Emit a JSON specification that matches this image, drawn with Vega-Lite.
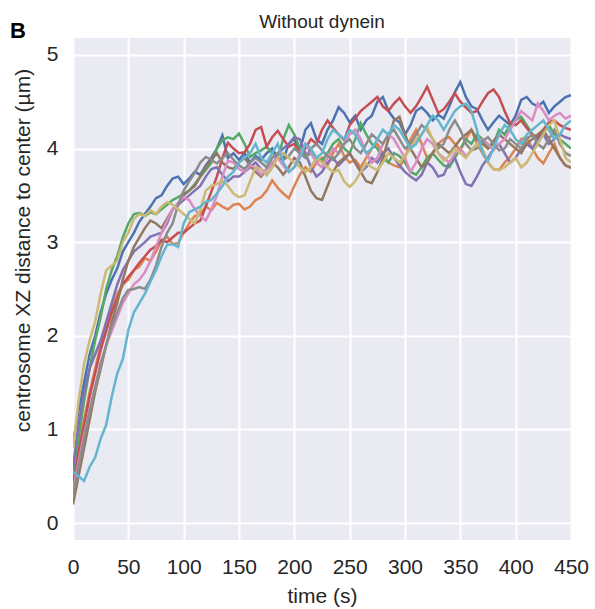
{
"$schema":"https://vega.github.io/schema/vega-lite/v6.json",
"width":498,"height":502,
"autosize":{"type":"none"},
"padding":{"left":73,"top":38,"right":24,"bottom":69},
"background":"white",
"config":{"view":{"fill":"#EAEAF2","stroke":null},"font":"Liberation Sans"},
"title":{"text":"Without dynein","fontSize":19,"fontWeight":"normal","color":"#262626","anchor":"middle","frame":"group","offset":-27,"baseline":"alphabetic","font":"Liberation Sans"},
"datasets":{"traj":[
{"r":"1","t":0,"d":0.85},{"r":"1","t":5,"d":1.2},{"r":"1","t":10,"d":1.5},{"r":"1","t":15,"d":1.8},{"r":"1","t":20,"d":2.0},{"r":"1","t":25,"d":2.25},{"r":"1","t":30,"d":2.45},{"r":"1","t":35,"d":2.6},{"r":"1","t":40,"d":2.72},{"r":"1","t":45,"d":2.9},{"r":"1","t":50,"d":3.0},{"r":"1","t":55,"d":3.1},{"r":"1","t":60,"d":3.22},{"r":"1","t":65,"d":3.3},{"r":"1","t":70,"d":3.38},{"r":"1","t":75,"d":3.47},{"r":"1","t":80,"d":3.5},{"r":"1","t":85,"d":3.6},{"r":"1","t":90,"d":3.68},{"r":"1","t":95,"d":3.7},{"r":"1","t":100,"d":3.62},{"r":"1","t":105,"d":3.68},{"r":"1","t":110,"d":3.75},{"r":"1","t":115,"d":3.72},{"r":"1","t":120,"d":3.82},{"r":"1","t":125,"d":3.9},{"r":"1","t":130,"d":4.0},{"r":"1","t":135,"d":4.14},{"r":"1","t":140,"d":3.9},{"r":"1","t":145,"d":3.95},{"r":"1","t":150,"d":3.88},{"r":"1","t":155,"d":3.95},{"r":"1","t":160,"d":3.85},{"r":"1","t":165,"d":3.92},{"r":"1","t":170,"d":3.88},{"r":"1","t":175,"d":3.95},{"r":"1","t":180,"d":4.0},{"r":"1","t":185,"d":3.9},{"r":"1","t":190,"d":3.88},{"r":"1","t":195,"d":4.05},{"r":"1","t":200,"d":4.1},{"r":"1","t":205,"d":3.98},{"r":"1","t":210,"d":4.2},{"r":"1","t":215,"d":4.27},{"r":"1","t":220,"d":4.1},{"r":"1","t":225,"d":4.05},{"r":"1","t":230,"d":4.2},{"r":"1","t":235,"d":4.3},{"r":"1","t":240,"d":4.44},{"r":"1","t":245,"d":4.38},{"r":"1","t":250,"d":4.28},{"r":"1","t":255,"d":4.35},{"r":"1","t":260,"d":4.2},{"r":"1","t":265,"d":4.3},{"r":"1","t":270,"d":4.35},{"r":"1","t":275,"d":4.5},{"r":"1","t":280,"d":4.55},{"r":"1","t":285,"d":4.4},{"r":"1","t":290,"d":4.32},{"r":"1","t":295,"d":4.28},{"r":"1","t":300,"d":4.15},{"r":"1","t":305,"d":4.25},{"r":"1","t":310,"d":4.4},{"r":"1","t":315,"d":4.44},{"r":"1","t":320,"d":4.38},{"r":"1","t":325,"d":4.3},{"r":"1","t":330,"d":4.36},{"r":"1","t":335,"d":4.32},{"r":"1","t":340,"d":4.45},{"r":"1","t":345,"d":4.6},{"r":"1","t":350,"d":4.71},{"r":"1","t":355,"d":4.55},{"r":"1","t":360,"d":4.45},{"r":"1","t":365,"d":4.42},{"r":"1","t":370,"d":4.3},{"r":"1","t":375,"d":4.2},{"r":"1","t":380,"d":4.28},{"r":"1","t":385,"d":4.35},{"r":"1","t":390,"d":4.3},{"r":"1","t":395,"d":4.25},{"r":"1","t":400,"d":4.35},{"r":"1","t":405,"d":4.52},{"r":"1","t":410,"d":4.55},{"r":"1","t":415,"d":4.48},{"r":"1","t":420,"d":4.45},{"r":"1","t":425,"d":4.5},{"r":"1","t":430,"d":4.38},{"r":"1","t":435,"d":4.45},{"r":"1","t":440,"d":4.5},{"r":"1","t":445,"d":4.55},{"r":"1","t":450,"d":4.57},
{"r":"2","t":0,"d":0.5},{"r":"2","t":5,"d":0.8},{"r":"2","t":10,"d":1.1},{"r":"2","t":15,"d":1.4},{"r":"2","t":20,"d":1.65},{"r":"2","t":25,"d":1.9},{"r":"2","t":30,"d":2.1},{"r":"2","t":35,"d":2.3},{"r":"2","t":40,"d":2.45},{"r":"2","t":45,"d":2.55},{"r":"2","t":50,"d":2.6},{"r":"2","t":55,"d":2.7},{"r":"2","t":60,"d":2.74},{"r":"2","t":65,"d":2.83},{"r":"2","t":70,"d":2.8},{"r":"2","t":75,"d":2.9},{"r":"2","t":80,"d":3.02},{"r":"2","t":85,"d":3.06},{"r":"2","t":90,"d":2.98},{"r":"2","t":95,"d":2.99},{"r":"2","t":100,"d":3.1},{"r":"2","t":105,"d":3.2},{"r":"2","t":110,"d":3.28},{"r":"2","t":115,"d":3.3},{"r":"2","t":120,"d":3.38},{"r":"2","t":125,"d":3.34},{"r":"2","t":130,"d":3.42},{"r":"2","t":135,"d":3.38},{"r":"2","t":140,"d":3.35},{"r":"2","t":145,"d":3.4},{"r":"2","t":150,"d":3.41},{"r":"2","t":155,"d":3.35},{"r":"2","t":160,"d":3.38},{"r":"2","t":165,"d":3.45},{"r":"2","t":170,"d":3.48},{"r":"2","t":175,"d":3.55},{"r":"2","t":180,"d":3.66},{"r":"2","t":185,"d":3.58},{"r":"2","t":190,"d":3.52},{"r":"2","t":195,"d":3.47},{"r":"2","t":200,"d":3.6},{"r":"2","t":205,"d":3.72},{"r":"2","t":210,"d":3.8},{"r":"2","t":215,"d":3.75},{"r":"2","t":220,"d":3.85},{"r":"2","t":225,"d":3.9},{"r":"2","t":230,"d":3.82},{"r":"2","t":235,"d":3.95},{"r":"2","t":240,"d":4.05},{"r":"2","t":245,"d":3.92},{"r":"2","t":250,"d":3.85},{"r":"2","t":255,"d":3.88},{"r":"2","t":260,"d":3.8},{"r":"2","t":265,"d":3.9},{"r":"2","t":270,"d":4.0},{"r":"2","t":275,"d":4.05},{"r":"2","t":280,"d":3.95},{"r":"2","t":285,"d":3.85},{"r":"2","t":290,"d":3.82},{"r":"2","t":295,"d":3.8},{"r":"2","t":300,"d":3.9},{"r":"2","t":305,"d":4.1},{"r":"2","t":310,"d":4.2},{"r":"2","t":315,"d":4.05},{"r":"2","t":320,"d":3.9},{"r":"2","t":325,"d":3.95},{"r":"2","t":330,"d":4.05},{"r":"2","t":335,"d":4.1},{"r":"2","t":340,"d":4.12},{"r":"2","t":345,"d":4.05},{"r":"2","t":350,"d":3.98},{"r":"2","t":355,"d":4.1},{"r":"2","t":360,"d":4.2},{"r":"2","t":365,"d":4.05},{"r":"2","t":370,"d":3.95},{"r":"2","t":375,"d":3.85},{"r":"2","t":380,"d":3.78},{"r":"2","t":385,"d":3.77},{"r":"2","t":390,"d":3.85},{"r":"2","t":395,"d":3.91},{"r":"2","t":400,"d":4.0},{"r":"2","t":405,"d":4.1},{"r":"2","t":410,"d":4.12},{"r":"2","t":415,"d":4.0},{"r":"2","t":420,"d":3.9},{"r":"2","t":425,"d":3.84},{"r":"2","t":430,"d":3.95},{"r":"2","t":435,"d":4.05},{"r":"2","t":440,"d":3.9},{"r":"2","t":445,"d":3.82},{"r":"2","t":450,"d":3.79},
{"r":"3","t":0,"d":0.5},{"r":"3","t":5,"d":0.9},{"r":"3","t":10,"d":1.3},{"r":"3","t":15,"d":1.65},{"r":"3","t":20,"d":1.95},{"r":"3","t":25,"d":2.2},{"r":"3","t":30,"d":2.5},{"r":"3","t":35,"d":2.7},{"r":"3","t":40,"d":2.85},{"r":"3","t":45,"d":3.05},{"r":"3","t":50,"d":3.2},{"r":"3","t":55,"d":3.3},{"r":"3","t":60,"d":3.31},{"r":"3","t":65,"d":3.28},{"r":"3","t":70,"d":3.32},{"r":"3","t":75,"d":3.3},{"r":"3","t":80,"d":3.35},{"r":"3","t":85,"d":3.4},{"r":"3","t":90,"d":3.45},{"r":"3","t":95,"d":3.48},{"r":"3","t":100,"d":3.52},{"r":"3","t":105,"d":3.55},{"r":"3","t":110,"d":3.62},{"r":"3","t":115,"d":3.7},{"r":"3","t":120,"d":3.77},{"r":"3","t":125,"d":3.85},{"r":"3","t":130,"d":4.0},{"r":"3","t":135,"d":4.09},{"r":"3","t":140,"d":4.12},{"r":"3","t":145,"d":4.1},{"r":"3","t":150,"d":4.16},{"r":"3","t":155,"d":4.05},{"r":"3","t":160,"d":3.91},{"r":"3","t":165,"d":3.95},{"r":"3","t":170,"d":3.98},{"r":"3","t":175,"d":4.02},{"r":"3","t":180,"d":3.95},{"r":"3","t":185,"d":3.9},{"r":"3","t":190,"d":4.1},{"r":"3","t":195,"d":4.25},{"r":"3","t":200,"d":4.15},{"r":"3","t":205,"d":4.0},{"r":"3","t":210,"d":3.91},{"r":"3","t":215,"d":3.95},{"r":"3","t":220,"d":3.9},{"r":"3","t":225,"d":3.87},{"r":"3","t":230,"d":3.95},{"r":"3","t":235,"d":4.05},{"r":"3","t":240,"d":4.1},{"r":"3","t":245,"d":4.0},{"r":"3","t":250,"d":3.95},{"r":"3","t":255,"d":4.1},{"r":"3","t":260,"d":4.27},{"r":"3","t":265,"d":4.15},{"r":"3","t":270,"d":4.05},{"r":"3","t":275,"d":4.0},{"r":"3","t":280,"d":3.9},{"r":"3","t":285,"d":3.85},{"r":"3","t":290,"d":3.95},{"r":"3","t":295,"d":3.92},{"r":"3","t":300,"d":3.85},{"r":"3","t":305,"d":3.75},{"r":"3","t":310,"d":3.72},{"r":"3","t":315,"d":3.8},{"r":"3","t":320,"d":3.9},{"r":"3","t":325,"d":3.95},{"r":"3","t":330,"d":3.88},{"r":"3","t":335,"d":3.82},{"r":"3","t":340,"d":3.8},{"r":"3","t":345,"d":3.9},{"r":"3","t":350,"d":4.0},{"r":"3","t":355,"d":4.1},{"r":"3","t":360,"d":4.05},{"r":"3","t":365,"d":4.15},{"r":"3","t":370,"d":4.1},{"r":"3","t":375,"d":4.0},{"r":"3","t":380,"d":4.05},{"r":"3","t":385,"d":4.2},{"r":"3","t":390,"d":4.15},{"r":"3","t":395,"d":4.25},{"r":"3","t":400,"d":4.3},{"r":"3","t":405,"d":4.34},{"r":"3","t":410,"d":4.25},{"r":"3","t":415,"d":4.15},{"r":"3","t":420,"d":4.1},{"r":"3","t":425,"d":4.2},{"r":"3","t":430,"d":4.25},{"r":"3","t":435,"d":4.15},{"r":"3","t":440,"d":4.1},{"r":"3","t":445,"d":4.05},{"r":"3","t":450,"d":4.0},
{"r":"4","t":0,"d":0.4},{"r":"4","t":5,"d":0.75},{"r":"4","t":10,"d":1.05},{"r":"4","t":15,"d":1.35},{"r":"4","t":20,"d":1.6},{"r":"4","t":25,"d":1.85},{"r":"4","t":30,"d":2.05},{"r":"4","t":35,"d":2.25},{"r":"4","t":40,"d":2.4},{"r":"4","t":45,"d":2.55},{"r":"4","t":50,"d":2.63},{"r":"4","t":55,"d":2.7},{"r":"4","t":60,"d":2.78},{"r":"4","t":65,"d":2.85},{"r":"4","t":70,"d":2.92},{"r":"4","t":75,"d":2.96},{"r":"4","t":80,"d":3.02},{"r":"4","t":85,"d":3.0},{"r":"4","t":90,"d":3.05},{"r":"4","t":95,"d":3.1},{"r":"4","t":100,"d":3.1},{"r":"4","t":105,"d":3.15},{"r":"4","t":110,"d":3.2},{"r":"4","t":115,"d":3.23},{"r":"4","t":120,"d":3.38},{"r":"4","t":125,"d":3.54},{"r":"4","t":130,"d":3.7},{"r":"4","t":135,"d":3.9},{"r":"4","t":140,"d":4.06},{"r":"4","t":145,"d":4.0},{"r":"4","t":150,"d":3.95},{"r":"4","t":155,"d":3.96},{"r":"4","t":160,"d":4.05},{"r":"4","t":165,"d":4.2},{"r":"4","t":170,"d":4.23},{"r":"4","t":175,"d":4.02},{"r":"4","t":180,"d":4.12},{"r":"4","t":185,"d":4.19},{"r":"4","t":190,"d":4.1},{"r":"4","t":195,"d":4.02},{"r":"4","t":200,"d":4.05},{"r":"4","t":205,"d":3.95},{"r":"4","t":210,"d":4.0},{"r":"4","t":215,"d":4.1},{"r":"4","t":220,"d":4.05},{"r":"4","t":225,"d":4.2},{"r":"4","t":230,"d":4.3},{"r":"4","t":235,"d":4.22},{"r":"4","t":240,"d":4.15},{"r":"4","t":245,"d":4.09},{"r":"4","t":250,"d":4.25},{"r":"4","t":255,"d":4.32},{"r":"4","t":260,"d":4.4},{"r":"4","t":265,"d":4.45},{"r":"4","t":270,"d":4.5},{"r":"4","t":275,"d":4.55},{"r":"4","t":280,"d":4.45},{"r":"4","t":285,"d":4.4},{"r":"4","t":290,"d":4.48},{"r":"4","t":295,"d":4.54},{"r":"4","t":300,"d":4.45},{"r":"4","t":305,"d":4.38},{"r":"4","t":310,"d":4.45},{"r":"4","t":315,"d":4.55},{"r":"4","t":320,"d":4.66},{"r":"4","t":325,"d":4.52},{"r":"4","t":330,"d":4.38},{"r":"4","t":335,"d":4.42},{"r":"4","t":340,"d":4.5},{"r":"4","t":345,"d":4.59},{"r":"4","t":350,"d":4.5},{"r":"4","t":355,"d":4.44},{"r":"4","t":360,"d":4.38},{"r":"4","t":365,"d":4.4},{"r":"4","t":370,"d":4.5},{"r":"4","t":375,"d":4.59},{"r":"4","t":380,"d":4.63},{"r":"4","t":385,"d":4.55},{"r":"4","t":390,"d":4.4},{"r":"4","t":395,"d":4.27},{"r":"4","t":400,"d":4.25},{"r":"4","t":405,"d":4.3},{"r":"4","t":410,"d":4.22},{"r":"4","t":415,"d":4.15},{"r":"4","t":420,"d":4.12},{"r":"4","t":425,"d":4.2},{"r":"4","t":430,"d":4.28},{"r":"4","t":435,"d":4.3},{"r":"4","t":440,"d":4.25},{"r":"4","t":445,"d":4.22},{"r":"4","t":450,"d":4.2},
{"r":"5","t":0,"d":0.6},{"r":"5","t":5,"d":1.05},{"r":"5","t":10,"d":1.4},{"r":"5","t":15,"d":1.65},{"r":"5","t":20,"d":1.8},{"r":"5","t":25,"d":1.95},{"r":"5","t":30,"d":2.15},{"r":"5","t":35,"d":2.35},{"r":"5","t":40,"d":2.55},{"r":"5","t":45,"d":2.7},{"r":"5","t":50,"d":2.8},{"r":"5","t":55,"d":2.9},{"r":"5","t":60,"d":2.95},{"r":"5","t":65,"d":3.0},{"r":"5","t":70,"d":3.06},{"r":"5","t":75,"d":3.08},{"r":"5","t":80,"d":3.1},{"r":"5","t":85,"d":3.2},{"r":"5","t":90,"d":3.35},{"r":"5","t":95,"d":3.4},{"r":"5","t":100,"d":3.45},{"r":"5","t":105,"d":3.5},{"r":"5","t":110,"d":3.55},{"r":"5","t":115,"d":3.6},{"r":"5","t":120,"d":3.7},{"r":"5","t":125,"d":3.78},{"r":"5","t":130,"d":3.8},{"r":"5","t":135,"d":3.72},{"r":"5","t":140,"d":3.65},{"r":"5","t":145,"d":3.7},{"r":"5","t":150,"d":3.7},{"r":"5","t":155,"d":3.75},{"r":"5","t":160,"d":3.8},{"r":"5","t":165,"d":3.85},{"r":"5","t":170,"d":3.78},{"r":"5","t":175,"d":3.72},{"r":"5","t":180,"d":3.8},{"r":"5","t":185,"d":3.95},{"r":"5","t":190,"d":4.0},{"r":"5","t":195,"d":4.05},{"r":"5","t":200,"d":4.12},{"r":"5","t":205,"d":4.1},{"r":"5","t":210,"d":3.95},{"r":"5","t":215,"d":3.8},{"r":"5","t":220,"d":3.7},{"r":"5","t":225,"d":3.75},{"r":"5","t":230,"d":3.85},{"r":"5","t":235,"d":3.9},{"r":"5","t":240,"d":3.82},{"r":"5","t":245,"d":3.88},{"r":"5","t":250,"d":3.95},{"r":"5","t":255,"d":3.85},{"r":"5","t":260,"d":3.75},{"r":"5","t":265,"d":3.8},{"r":"5","t":270,"d":3.9},{"r":"5","t":275,"d":3.85},{"r":"5","t":280,"d":3.95},{"r":"5","t":285,"d":4.0},{"r":"5","t":290,"d":3.9},{"r":"5","t":295,"d":3.82},{"r":"5","t":300,"d":3.75},{"r":"5","t":305,"d":3.7},{"r":"5","t":310,"d":3.66},{"r":"5","t":315,"d":3.72},{"r":"5","t":320,"d":3.85},{"r":"5","t":325,"d":3.8},{"r":"5","t":330,"d":3.7},{"r":"5","t":335,"d":3.72},{"r":"5","t":340,"d":3.85},{"r":"5","t":345,"d":3.9},{"r":"5","t":350,"d":3.75},{"r":"5","t":355,"d":3.62},{"r":"5","t":360,"d":3.6},{"r":"5","t":365,"d":3.7},{"r":"5","t":370,"d":3.82},{"r":"5","t":375,"d":3.9},{"r":"5","t":380,"d":4.0},{"r":"5","t":385,"d":4.05},{"r":"5","t":390,"d":3.95},{"r":"5","t":395,"d":3.85},{"r":"5","t":400,"d":3.9},{"r":"5","t":405,"d":4.0},{"r":"5","t":410,"d":4.05},{"r":"5","t":415,"d":4.0},{"r":"5","t":420,"d":4.1},{"r":"5","t":425,"d":4.15},{"r":"5","t":430,"d":4.05},{"r":"5","t":435,"d":4.1},{"r":"5","t":440,"d":4.15},{"r":"5","t":445,"d":4.12},{"r":"5","t":450,"d":4.1},
{"r":"6","t":0,"d":0.2},{"r":"6","t":5,"d":0.5},{"r":"6","t":10,"d":0.8},{"r":"6","t":15,"d":1.1},{"r":"6","t":20,"d":1.4},{"r":"6","t":25,"d":1.65},{"r":"6","t":30,"d":1.9},{"r":"6","t":35,"d":2.15},{"r":"6","t":40,"d":2.35},{"r":"6","t":45,"d":2.6},{"r":"6","t":50,"d":2.8},{"r":"6","t":55,"d":2.95},{"r":"6","t":60,"d":3.05},{"r":"6","t":65,"d":3.15},{"r":"6","t":70,"d":3.23},{"r":"6","t":75,"d":3.2},{"r":"6","t":80,"d":3.15},{"r":"6","t":85,"d":3.25},{"r":"6","t":90,"d":3.35},{"r":"6","t":95,"d":3.4},{"r":"6","t":100,"d":3.5},{"r":"6","t":105,"d":3.55},{"r":"6","t":110,"d":3.6},{"r":"6","t":115,"d":3.7},{"r":"6","t":120,"d":3.8},{"r":"6","t":125,"d":3.88},{"r":"6","t":130,"d":3.95},{"r":"6","t":135,"d":3.85},{"r":"6","t":140,"d":3.8},{"r":"6","t":145,"d":3.78},{"r":"6","t":150,"d":3.85},{"r":"6","t":155,"d":3.9},{"r":"6","t":160,"d":3.82},{"r":"6","t":165,"d":3.75},{"r":"6","t":170,"d":3.7},{"r":"6","t":175,"d":3.78},{"r":"6","t":180,"d":3.85},{"r":"6","t":185,"d":3.8},{"r":"6","t":190,"d":3.72},{"r":"6","t":195,"d":3.8},{"r":"6","t":200,"d":3.9},{"r":"6","t":205,"d":3.85},{"r":"6","t":210,"d":3.7},{"r":"6","t":215,"d":3.55},{"r":"6","t":220,"d":3.47},{"r":"6","t":225,"d":3.45},{"r":"6","t":230,"d":3.6},{"r":"6","t":235,"d":3.75},{"r":"6","t":240,"d":3.85},{"r":"6","t":245,"d":3.9},{"r":"6","t":250,"d":3.95},{"r":"6","t":255,"d":3.85},{"r":"6","t":260,"d":3.75},{"r":"6","t":265,"d":3.65},{"r":"6","t":270,"d":3.63},{"r":"6","t":275,"d":3.75},{"r":"6","t":280,"d":3.9},{"r":"6","t":285,"d":4.1},{"r":"6","t":290,"d":4.3},{"r":"6","t":295,"d":4.34},{"r":"6","t":300,"d":4.15},{"r":"6","t":305,"d":4.0},{"r":"6","t":310,"d":3.9},{"r":"6","t":315,"d":3.8},{"r":"6","t":320,"d":3.85},{"r":"6","t":325,"d":3.95},{"r":"6","t":330,"d":4.05},{"r":"6","t":335,"d":4.0},{"r":"6","t":340,"d":3.95},{"r":"6","t":345,"d":4.02},{"r":"6","t":350,"d":4.1},{"r":"6","t":355,"d":4.15},{"r":"6","t":360,"d":4.2},{"r":"6","t":365,"d":4.1},{"r":"6","t":370,"d":4.05},{"r":"6","t":375,"d":4.0},{"r":"6","t":380,"d":4.08},{"r":"6","t":385,"d":4.15},{"r":"6","t":390,"d":4.1},{"r":"6","t":395,"d":4.05},{"r":"6","t":400,"d":4.0},{"r":"6","t":405,"d":3.95},{"r":"6","t":410,"d":4.05},{"r":"6","t":415,"d":4.1},{"r":"6","t":420,"d":4.15},{"r":"6","t":425,"d":4.2},{"r":"6","t":430,"d":4.1},{"r":"6","t":435,"d":4.0},{"r":"6","t":440,"d":3.9},{"r":"6","t":445,"d":3.82},{"r":"6","t":450,"d":3.8},
{"r":"7","t":0,"d":0.35},{"r":"7","t":5,"d":0.65},{"r":"7","t":10,"d":0.95},{"r":"7","t":15,"d":1.2},{"r":"7","t":20,"d":1.45},{"r":"7","t":25,"d":1.7},{"r":"7","t":30,"d":1.9},{"r":"7","t":35,"d":2.05},{"r":"7","t":40,"d":2.2},{"r":"7","t":45,"d":2.35},{"r":"7","t":50,"d":2.45},{"r":"7","t":55,"d":2.55},{"r":"7","t":60,"d":2.6},{"r":"7","t":65,"d":2.68},{"r":"7","t":70,"d":2.8},{"r":"7","t":75,"d":2.95},{"r":"7","t":80,"d":3.1},{"r":"7","t":85,"d":3.23},{"r":"7","t":90,"d":3.35},{"r":"7","t":95,"d":3.42},{"r":"7","t":100,"d":3.48},{"r":"7","t":105,"d":3.45},{"r":"7","t":110,"d":3.35},{"r":"7","t":115,"d":3.28},{"r":"7","t":120,"d":3.23},{"r":"7","t":125,"d":3.35},{"r":"7","t":130,"d":3.5},{"r":"7","t":135,"d":3.7},{"r":"7","t":140,"d":3.87},{"r":"7","t":145,"d":3.85},{"r":"7","t":150,"d":3.78},{"r":"7","t":155,"d":3.75},{"r":"7","t":160,"d":3.82},{"r":"7","t":165,"d":3.8},{"r":"7","t":170,"d":3.72},{"r":"7","t":175,"d":3.78},{"r":"7","t":180,"d":3.85},{"r":"7","t":185,"d":3.9},{"r":"7","t":190,"d":3.82},{"r":"7","t":195,"d":3.75},{"r":"7","t":200,"d":3.8},{"r":"7","t":205,"d":3.95},{"r":"7","t":210,"d":4.05},{"r":"7","t":215,"d":3.95},{"r":"7","t":220,"d":3.85},{"r":"7","t":225,"d":3.8},{"r":"7","t":230,"d":3.9},{"r":"7","t":235,"d":4.0},{"r":"7","t":240,"d":3.95},{"r":"7","t":245,"d":4.05},{"r":"7","t":250,"d":4.15},{"r":"7","t":255,"d":4.2},{"r":"7","t":260,"d":4.1},{"r":"7","t":265,"d":3.95},{"r":"7","t":270,"d":3.85},{"r":"7","t":275,"d":3.9},{"r":"7","t":280,"d":4.05},{"r":"7","t":285,"d":4.15},{"r":"7","t":290,"d":4.1},{"r":"7","t":295,"d":4.0},{"r":"7","t":300,"d":3.9},{"r":"7","t":305,"d":3.75},{"r":"7","t":310,"d":3.85},{"r":"7","t":315,"d":4.0},{"r":"7","t":320,"d":4.1},{"r":"7","t":325,"d":4.05},{"r":"7","t":330,"d":3.95},{"r":"7","t":335,"d":3.9},{"r":"7","t":340,"d":3.85},{"r":"7","t":345,"d":3.95},{"r":"7","t":350,"d":4.0},{"r":"7","t":355,"d":3.92},{"r":"7","t":360,"d":3.98},{"r":"7","t":365,"d":4.05},{"r":"7","t":370,"d":4.1},{"r":"7","t":375,"d":4.05},{"r":"7","t":380,"d":3.98},{"r":"7","t":385,"d":4.05},{"r":"7","t":390,"d":4.1},{"r":"7","t":395,"d":4.2},{"r":"7","t":400,"d":4.3},{"r":"7","t":405,"d":4.4},{"r":"7","t":410,"d":4.35},{"r":"7","t":415,"d":4.3},{"r":"7","t":420,"d":4.48},{"r":"7","t":425,"d":4.4},{"r":"7","t":430,"d":4.3},{"r":"7","t":435,"d":4.35},{"r":"7","t":440,"d":4.38},{"r":"7","t":445,"d":4.32},{"r":"7","t":450,"d":4.35},
{"r":"8","t":0,"d":0.3},{"r":"8","t":5,"d":0.6},{"r":"8","t":10,"d":0.9},{"r":"8","t":15,"d":1.2},{"r":"8","t":20,"d":1.45},{"r":"8","t":25,"d":1.7},{"r":"8","t":30,"d":1.9},{"r":"8","t":35,"d":2.1},{"r":"8","t":40,"d":2.25},{"r":"8","t":45,"d":2.4},{"r":"8","t":50,"d":2.49},{"r":"8","t":55,"d":2.5},{"r":"8","t":60,"d":2.52},{"r":"8","t":65,"d":2.5},{"r":"8","t":70,"d":2.6},{"r":"8","t":75,"d":2.75},{"r":"8","t":80,"d":2.95},{"r":"8","t":85,"d":3.1},{"r":"8","t":90,"d":3.2},{"r":"8","t":95,"d":3.4},{"r":"8","t":100,"d":3.55},{"r":"8","t":105,"d":3.65},{"r":"8","t":110,"d":3.74},{"r":"8","t":115,"d":3.85},{"r":"8","t":120,"d":3.91},{"r":"8","t":125,"d":3.88},{"r":"8","t":130,"d":3.84},{"r":"8","t":135,"d":3.9},{"r":"8","t":140,"d":3.95},{"r":"8","t":145,"d":3.88},{"r":"8","t":150,"d":3.82},{"r":"8","t":155,"d":3.78},{"r":"8","t":160,"d":3.85},{"r":"8","t":165,"d":3.9},{"r":"8","t":170,"d":3.85},{"r":"8","t":175,"d":3.8},{"r":"8","t":180,"d":3.9},{"r":"8","t":185,"d":3.95},{"r":"8","t":190,"d":3.88},{"r":"8","t":195,"d":3.92},{"r":"8","t":200,"d":4.0},{"r":"8","t":205,"d":3.95},{"r":"8","t":210,"d":3.9},{"r":"8","t":215,"d":4.0},{"r":"8","t":220,"d":4.05},{"r":"8","t":225,"d":3.98},{"r":"8","t":230,"d":3.92},{"r":"8","t":235,"d":3.88},{"r":"8","t":240,"d":3.95},{"r":"8","t":245,"d":4.05},{"r":"8","t":250,"d":4.1},{"r":"8","t":255,"d":4.0},{"r":"8","t":260,"d":3.95},{"r":"8","t":265,"d":4.05},{"r":"8","t":270,"d":4.15},{"r":"8","t":275,"d":4.1},{"r":"8","t":280,"d":4.05},{"r":"8","t":285,"d":4.15},{"r":"8","t":290,"d":4.2},{"r":"8","t":295,"d":4.1},{"r":"8","t":300,"d":4.0},{"r":"8","t":305,"d":4.05},{"r":"8","t":310,"d":4.15},{"r":"8","t":315,"d":4.25},{"r":"8","t":320,"d":4.2},{"r":"8","t":325,"d":4.1},{"r":"8","t":330,"d":4.0},{"r":"8","t":335,"d":4.05},{"r":"8","t":340,"d":4.2},{"r":"8","t":345,"d":4.3},{"r":"8","t":350,"d":4.2},{"r":"8","t":355,"d":4.05},{"r":"8","t":360,"d":3.98},{"r":"8","t":365,"d":4.0},{"r":"8","t":370,"d":4.08},{"r":"8","t":375,"d":4.12},{"r":"8","t":380,"d":4.05},{"r":"8","t":385,"d":3.98},{"r":"8","t":390,"d":4.0},{"r":"8","t":395,"d":4.1},{"r":"8","t":400,"d":4.05},{"r":"8","t":405,"d":4.0},{"r":"8","t":410,"d":4.1},{"r":"8","t":415,"d":4.15},{"r":"8","t":420,"d":4.05},{"r":"8","t":425,"d":4.0},{"r":"8","t":430,"d":4.1},{"r":"8","t":435,"d":4.2},{"r":"8","t":440,"d":4.05},{"r":"8","t":445,"d":3.95},{"r":"8","t":450,"d":3.92},
{"r":"9","t":0,"d":0.8},{"r":"9","t":5,"d":1.3},{"r":"9","t":10,"d":1.7},{"r":"9","t":15,"d":1.95},{"r":"9","t":20,"d":2.15},{"r":"9","t":25,"d":2.45},{"r":"9","t":30,"d":2.7},{"r":"9","t":35,"d":2.75},{"r":"9","t":40,"d":2.8},{"r":"9","t":45,"d":3.0},{"r":"9","t":50,"d":3.1},{"r":"9","t":55,"d":3.25},{"r":"9","t":60,"d":3.3},{"r":"9","t":65,"d":3.28},{"r":"9","t":70,"d":3.34},{"r":"9","t":75,"d":3.3},{"r":"9","t":80,"d":3.38},{"r":"9","t":85,"d":3.43},{"r":"9","t":90,"d":3.4},{"r":"9","t":95,"d":3.35},{"r":"9","t":100,"d":3.3},{"r":"9","t":105,"d":3.25},{"r":"9","t":110,"d":3.2},{"r":"9","t":115,"d":3.35},{"r":"9","t":120,"d":3.55},{"r":"9","t":125,"d":3.6},{"r":"9","t":130,"d":3.62},{"r":"9","t":135,"d":3.66},{"r":"9","t":140,"d":3.6},{"r":"9","t":145,"d":3.52},{"r":"9","t":150,"d":3.48},{"r":"9","t":155,"d":3.5},{"r":"9","t":160,"d":3.65},{"r":"9","t":165,"d":3.8},{"r":"9","t":170,"d":3.78},{"r":"9","t":175,"d":3.72},{"r":"9","t":180,"d":3.8},{"r":"9","t":185,"d":3.9},{"r":"9","t":190,"d":3.95},{"r":"9","t":195,"d":3.9},{"r":"9","t":200,"d":3.85},{"r":"9","t":205,"d":3.8},{"r":"9","t":210,"d":3.75},{"r":"9","t":215,"d":3.8},{"r":"9","t":220,"d":3.9},{"r":"9","t":225,"d":3.85},{"r":"9","t":230,"d":3.8},{"r":"9","t":235,"d":3.75},{"r":"9","t":240,"d":3.77},{"r":"9","t":245,"d":3.65},{"r":"9","t":250,"d":3.59},{"r":"9","t":255,"d":3.65},{"r":"9","t":260,"d":3.75},{"r":"9","t":265,"d":3.84},{"r":"9","t":270,"d":3.8},{"r":"9","t":275,"d":3.77},{"r":"9","t":280,"d":3.85},{"r":"9","t":285,"d":3.95},{"r":"9","t":290,"d":3.9},{"r":"9","t":295,"d":3.85},{"r":"9","t":300,"d":3.92},{"r":"9","t":305,"d":4.0},{"r":"9","t":310,"d":4.1},{"r":"9","t":315,"d":4.15},{"r":"9","t":320,"d":4.23},{"r":"9","t":325,"d":4.1},{"r":"9","t":330,"d":3.95},{"r":"9","t":335,"d":3.87},{"r":"9","t":340,"d":3.92},{"r":"9","t":345,"d":4.0},{"r":"9","t":350,"d":3.95},{"r":"9","t":355,"d":3.9},{"r":"9","t":360,"d":3.98},{"r":"9","t":365,"d":4.05},{"r":"9","t":370,"d":4.0},{"r":"9","t":375,"d":3.85},{"r":"9","t":380,"d":3.78},{"r":"9","t":385,"d":3.77},{"r":"9","t":390,"d":3.8},{"r":"9","t":395,"d":3.85},{"r":"9","t":400,"d":3.9},{"r":"9","t":405,"d":3.8},{"r":"9","t":410,"d":3.85},{"r":"9","t":415,"d":3.95},{"r":"9","t":420,"d":4.05},{"r":"9","t":425,"d":4.15},{"r":"9","t":430,"d":4.25},{"r":"9","t":435,"d":4.3},{"r":"9","t":440,"d":4.1},{"r":"9","t":445,"d":3.9},{"r":"9","t":450,"d":3.85},
{"r":"10","t":0,"d":0.55},{"r":"10","t":5,"d":0.5},{"r":"10","t":10,"d":0.45},{"r":"10","t":15,"d":0.6},{"r":"10","t":20,"d":0.7},{"r":"10","t":25,"d":0.9},{"r":"10","t":30,"d":1.05},{"r":"10","t":35,"d":1.35},{"r":"10","t":40,"d":1.6},{"r":"10","t":45,"d":1.75},{"r":"10","t":50,"d":2.06},{"r":"10","t":55,"d":2.25},{"r":"10","t":60,"d":2.35},{"r":"10","t":65,"d":2.45},{"r":"10","t":70,"d":2.58},{"r":"10","t":75,"d":2.7},{"r":"10","t":80,"d":2.85},{"r":"10","t":85,"d":2.97},{"r":"10","t":90,"d":2.98},{"r":"10","t":95,"d":2.95},{"r":"10","t":100,"d":3.2},{"r":"10","t":105,"d":3.32},{"r":"10","t":110,"d":3.35},{"r":"10","t":115,"d":3.38},{"r":"10","t":120,"d":3.43},{"r":"10","t":125,"d":3.45},{"r":"10","t":130,"d":3.52},{"r":"10","t":135,"d":3.6},{"r":"10","t":140,"d":3.7},{"r":"10","t":145,"d":3.75},{"r":"10","t":150,"d":3.85},{"r":"10","t":155,"d":3.9},{"r":"10","t":160,"d":3.95},{"r":"10","t":165,"d":4.05},{"r":"10","t":170,"d":3.9},{"r":"10","t":175,"d":3.85},{"r":"10","t":180,"d":3.95},{"r":"10","t":185,"d":4.05},{"r":"10","t":190,"d":3.85},{"r":"10","t":195,"d":3.75},{"r":"10","t":200,"d":3.8},{"r":"10","t":205,"d":3.9},{"r":"10","t":210,"d":4.05},{"r":"10","t":215,"d":4.0},{"r":"10","t":220,"d":3.9},{"r":"10","t":225,"d":3.95},{"r":"10","t":230,"d":4.1},{"r":"10","t":235,"d":4.2},{"r":"10","t":240,"d":4.15},{"r":"10","t":245,"d":4.1},{"r":"10","t":250,"d":4.2},{"r":"10","t":255,"d":4.15},{"r":"10","t":260,"d":4.05},{"r":"10","t":265,"d":3.95},{"r":"10","t":270,"d":4.0},{"r":"10","t":275,"d":4.1},{"r":"10","t":280,"d":4.2},{"r":"10","t":285,"d":4.15},{"r":"10","t":290,"d":4.25},{"r":"10","t":295,"d":4.2},{"r":"10","t":300,"d":4.1},{"r":"10","t":305,"d":4.0},{"r":"10","t":310,"d":4.05},{"r":"10","t":315,"d":4.15},{"r":"10","t":320,"d":4.25},{"r":"10","t":325,"d":4.35},{"r":"10","t":330,"d":4.3},{"r":"10","t":335,"d":4.2},{"r":"10","t":340,"d":4.3},{"r":"10","t":345,"d":4.4},{"r":"10","t":350,"d":4.45},{"r":"10","t":355,"d":4.48},{"r":"10","t":360,"d":4.4},{"r":"10","t":365,"d":4.2},{"r":"10","t":370,"d":3.95},{"r":"10","t":375,"d":3.87},{"r":"10","t":380,"d":4.0},{"r":"10","t":385,"d":4.15},{"r":"10","t":390,"d":4.25},{"r":"10","t":395,"d":4.2},{"r":"10","t":400,"d":4.1},{"r":"10","t":405,"d":4.05},{"r":"10","t":410,"d":4.15},{"r":"10","t":415,"d":4.2},{"r":"10","t":420,"d":4.25},{"r":"10","t":425,"d":4.3},{"r":"10","t":430,"d":4.2},{"r":"10","t":435,"d":4.1},{"r":"10","t":440,"d":4.15},{"r":"10","t":445,"d":4.25},{"r":"10","t":450,"d":4.3}
]},
"layer":[
{"data":{"name":"traj"},
 "mark":{"type":"line","strokeWidth":2.5,"clip":true},
 "encoding":{
  "x":{"field":"t","type":"quantitative","scale":{"domain":[0,450],"nice":false,"zero":false},
   "axis":{"title":"time (s)","values":[0,50,100,150,200,250,300,350,400,450],"format":"d","grid":true,"gridColor":"white","gridWidth":2,"domain":false,"ticks":false,"labelFontSize":21,"labelColor":"#262626","labelPadding":16,"labelFlush":false,"labelOverlap":false,"titleFontSize":21,"titleColor":"#262626","titleFontWeight":"normal","titlePadding":8}},
  "y":{"field":"d","type":"quantitative","scale":{"domain":[-0.18,5.18],"nice":false,"zero":false},
   "axis":{"title":"centrosome XZ distance to center (µm)","values":[0,1,2,3,4,5],"format":"d","grid":true,"gridColor":"white","gridWidth":2,"domain":false,"ticks":false,"labelFontSize":21,"labelColor":"#262626","labelPadding":15,"labelFlush":false,"labelOverlap":false,"titleFontSize":21,"titleColor":"#262626","titleFontWeight":"normal","titleAngle":270,"titleX":-50,"titleY":212,"titleAlign":"center","titleBaseline":"middle"}},
  "color":{"field":"r","type":"nominal","scale":{"domain":["1","2","3","4","5","6","7","8","9","10"],"range":["#4C72B0","#DD8452","#55A868","#C44E52","#8172B3","#937860","#DA8BC3","#8C8C8C","#CCB974","#64B5CD"]},"legend":null}
 }},
{"data":{"values":[{"label":"B"}]},
 "mark":{"type":"text","fontSize":22,"fontWeight":"bold","align":"left","baseline":"middle","color":"black","font":"Liberation Sans"},
 "encoding":{"x":{"datum":-57},"y":{"datum":5.26},"text":{"field":"label"}}}
]
}
